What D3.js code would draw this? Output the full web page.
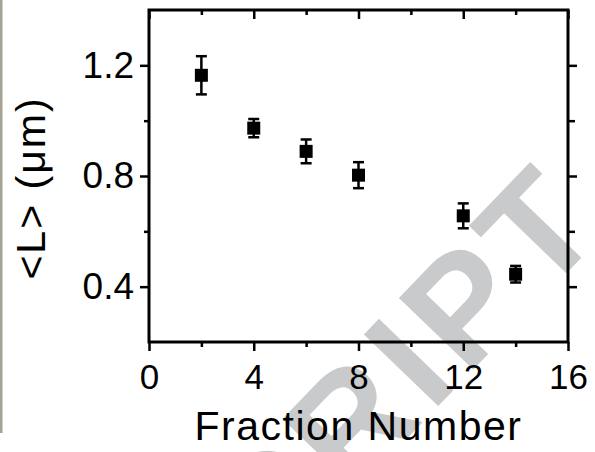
<!DOCTYPE html>
<html>
<head>
<meta charset="utf-8">
<script src="https://cdn.jsdelivr.net/npm/d3@7"></script>
<style>
  body { margin: 0; background: #fff; }
  svg { display: block; }
</style>
</head>
<body>
<script>
// data
let fractions = [2, 4, 6, 8, 12, 14];
let lengths   = [1.164, 0.973, 0.889, 0.803, 0.656, 0.445];
let errors    = [0.069, 0.033, 0.043, 0.047, 0.045, 0.030];

let xTicks = [0, 4, 8, 12, 16];
let xMinor = [2, 6, 10, 14];
let yTicks = [0.4, 0.8, 1.2];
let yMinor = [0.6, 1.0];

let width = 595, height = 452;
let plot = {left: 149, right: 568, top: 10, bottom: 342};
let font = 'Liberation Sans, Arial, Helvetica, sans-serif';

let svg = d3.select('body').append('svg')
    .attr('width', width)
    .attr('height', height);

// page edge from the scan
svg.append('rect')
    .attr('x', 0).attr('y', 0)
    .attr('width', 2.5).attr('height', 433)
    .attr('fill', '#a3a394');

let x = d3.scaleLinear().domain([0, 16]).range([plot.left, plot.right]);
let y = d3.scaleLinear().domain([0.2, 1.4]).range([plot.bottom, plot.top]);

// watermark
svg.append('text')
    .attr('transform', 'translate(612,226) rotate(-46)')
    .attr('text-anchor', 'end')
    .attr('font-family', font)
    .attr('font-weight', 'bold')
    .attr('font-size', '150px')
    .attr('letter-spacing', '9px')
    .attr('fill', '#c9cacc')
    .text('ACCEPTED MANUSCRIPT');

// axes
let axisStyle = a => a
    .call(g => g.select('.domain').remove())
    .call(g => g.selectAll('line').attr('stroke', '#000').attr('stroke-width', 2.5))
    .call(g => g.selectAll('text').attr('fill', '#000').attr('font-family', font));

svg.append('g')
    .attr('transform', `translate(0,${plot.bottom})`)
    .call(d3.axisBottom(x).tickValues(xTicks).tickSize(9).tickPadding(13).tickFormat(d3.format('d')))
    .call(axisStyle)
    .call(g => g.selectAll('text').attr('font-size', '35px'));

svg.append('g')
    .attr('transform', `translate(0,${plot.bottom})`)
    .call(d3.axisBottom(x).tickValues(xMinor).tickSize(5).tickFormat(''))
    .call(axisStyle);

svg.append('g')
    .attr('transform', `translate(${plot.left},0)`)
    .call(d3.axisLeft(y).tickValues(yTicks).tickSize(9).tickPadding(6).tickFormat(d3.format('.1f')))
    .call(axisStyle)
    .call(g => g.selectAll('text').attr('font-size', '37px'));

svg.append('g')
    .attr('transform', `translate(${plot.left},0)`)
    .call(d3.axisLeft(y).tickValues(yMinor).tickSize(5).tickFormat(''))
    .call(axisStyle);

// mirrored top / right ticks point inward
svg.append('g')
    .attr('transform', `translate(0,${plot.top})`)
    .call(d3.axisBottom(x).tickValues(xTicks).tickSize(9).tickFormat(''))
    .call(axisStyle);
svg.append('g')
    .attr('transform', `translate(0,${plot.top})`)
    .call(d3.axisBottom(x).tickValues(xMinor).tickSize(5).tickFormat(''))
    .call(axisStyle);
svg.append('g')
    .attr('transform', `translate(${plot.right},0)`)
    .call(d3.axisLeft(y).tickValues(yTicks).tickSize(-9).tickFormat(''))
    .call(axisStyle);
svg.append('g')
    .attr('transform', `translate(${plot.right},0)`)
    .call(d3.axisLeft(y).tickValues(yMinor).tickSize(-7).tickFormat(''))
    .call(axisStyle);

// frame
svg.append('rect')
    .attr('x', plot.left).attr('y', plot.top)
    .attr('width', plot.right - plot.left).attr('height', plot.bottom - plot.top)
    .attr('fill', 'none')
    .attr('stroke', '#000')
    .attr('stroke-width', 3);

// points with error bars
let points = fractions.map((f, i) => ({f: f, v: lengths[i], e: errors[i]}));
let capW = 11, box = 13;

let pts = svg.selectAll('g.pt')
    .data(points)
    .enter().append('g')
    .attr('class', 'pt');

pts.append('line')
    .attr('x1', d => x(d.f)).attr('x2', d => x(d.f))
    .attr('y1', d => y(d.v - d.e)).attr('y2', d => y(d.v + d.e))
    .attr('stroke', '#000').attr('stroke-width', 2.5);

pts.selectAll('line.cap')
    .data(d => [[d.f, d.v - d.e], [d.f, d.v + d.e]])
    .enter().append('line')
    .attr('class', 'cap')
    .attr('x1', d => x(d[0]) - capW / 2).attr('x2', d => x(d[0]) + capW / 2)
    .attr('y1', d => y(d[1])).attr('y2', d => y(d[1]))
    .attr('stroke', '#000').attr('stroke-width', 2.5);

pts.append('rect')
    .attr('x', d => x(d.f) - box / 2)
    .attr('y', d => y(d.v) - box / 2)
    .attr('width', box).attr('height', box)
    .attr('fill', '#000');

// axis titles
svg.append('text')
    .attr('x', (plot.left + plot.right) / 2)
    .attr('y', 440)
    .attr('text-anchor', 'middle')
    .attr('font-family', font)
    .attr('font-size', '41px')
    .attr('letter-spacing', '1.5px')
    .attr('fill', '#000')
    .text('Fraction Number');

svg.append('text')
    .attr('transform', 'translate(45,188) rotate(-90)')
    .attr('text-anchor', 'middle')
    .attr('font-family', font)
    .attr('font-size', '41px')
    .attr('letter-spacing', '2px')
    .attr('fill', '#000')
    .text('<L> (\u03bcm)');
</script>
</body>
</html>
